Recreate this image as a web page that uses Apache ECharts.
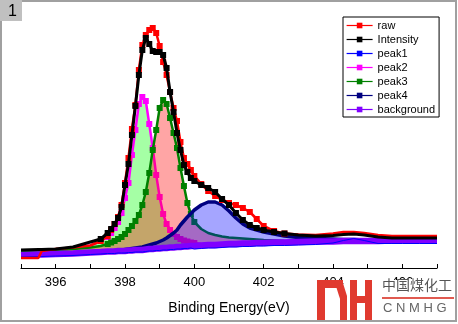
<!DOCTYPE html>
<html>
<head>
<meta charset="utf-8">
<script src="https://cdn.jsdelivr.net/npm/echarts@6/dist/echarts.min.js"></script>
<style>html,body{margin:0;padding:0;background:#fff;}#c{width:458px;height:324px;}</style>
</head>
<body>
<div id="c"></div>
<script>
// Binding energy (eV)
var energy = [395.0, 395.5, 395.6, 396.0, 396.5, 397.0, 397.3,
  397.5, 397.6, 397.7, 397.8, 397.9, 398.0, 398.1, 398.2, 398.3, 398.4, 398.5, 398.6, 398.7, 398.8, 398.9,
  399.0, 399.1, 399.2, 399.3, 399.4, 399.5, 399.6, 399.7, 399.8, 399.9, 400.0,
  400.2, 400.4, 400.6, 400.8, 401.0, 401.2, 401.4, 401.6, 401.8, 402.0,
  402.3, 402.6, 403.0, 403.5, 404.0, 404.3, 404.6, 404.9, 405.3, 405.7, 406.0, 406.5, 407.0];
// Intensities (arbitrary units)
var raw = [10, 10, 17, 19, 20.5, 22.5, 27,
  32, 38, 44, 51, 63, 85, 110, 139, 163, 198, 223, 233, 238, 240, 235,
  222, 206, 193, 176, 160, 147, 126, 110, 104, 98, 92,
  84, 77, 72, 68, 65, 63, 60, 56, 49, 42,
  37, 34.5, 33.5, 33, 34.5, 36, 36, 35, 33, 32, 32, 32, 32];
var intensity = [18, 18.5, 18.5, 19, 21, 26, 29,
  35, 39, 44, 50, 61, 83, 104, 133, 162, 193, 218, 230, 224, 217, 216,
  216, 213, 200, 176, 156, 135, 118, 103, 96, 90, 87,
  83, 80, 76, 69, 63, 55, 48, 43, 40, 38,
  36, 34.5, 33, 32, 32.5, 33.5, 34, 33, 31, 30, 30, 30, 30];
var peak1 = [11, 11.5, 11.5, 12, 12.5, 13.5, 14,
  14.5, 14.5, 14.5, 15, 15, 15, 15.5, 15.5, 16, 16, 16, 16.5, 17, 17, 17.5,
  17.5, 18, 18, 18.5, 18.5, 19, 19, 19.5, 19.5, 20, 19,
  19.5, 20, 20, 20.5, 21, 21, 21.5, 21.5, 22, 22,
  22.5, 22.5, 23, 23.5, 25, 27.5, 29.5, 27.5, 24.5, 24.5, 24.5, 24.5, 24.5];
var peak2 = [16, 16.5, 16.5, 17.5, 19.5, 22.5, 27,
  31, 35, 40, 46, 55, 70, 85, 113, 138, 164, 171, 167, 144, 120, 93,
  71, 54, 44, 38, 34, 31, 29, 27.5, 26.5, 25.5, 25,
  24, 23.5, 23, 23, 23, 23.5, 24, 24, 24.5, 25,
  25.5, 25.5, 26, 26.5, 26.5, 27, 27, 27, 27, 27.5, 27.5, 27.5, 27.5];
var peak3 = [17, 17.5, 17.5, 18, 19, 20.5, 22,
  24, 25.5, 27, 29, 31, 34, 38, 42, 47, 53, 63, 76, 95, 118, 138,
  160, 168, 164, 150, 135, 120, 100, 82, 65, 54, 46,
  39, 35, 33, 31.5, 30.5, 30, 29.5, 29, 28.5, 28,
  27.5, 27, 26.5, 26.5, 26.5, 27, 27, 27, 27, 27.5, 27.5, 27.5, 27.5];
var peak4 = [12, 12.5, 12.5, 13, 14, 15, 16,
  16.5, 17, 17.5, 17.5, 18, 18.5, 19, 19.5, 20, 20.5, 21, 22, 23, 24, 25,
  26.5, 28, 30, 32.5, 35, 38, 43, 47, 51, 54.5, 58,
  63, 66, 66, 63, 57, 50, 44, 40, 38, 36,
  34, 32, 30.5, 29.5, 29, 28.5, 28.5, 28, 28, 28, 28, 28, 28];
var background = [13, 13.5, 13.5, 14, 14.5, 15.5, 16,
  16.5, 16.5, 16.5, 17, 17, 17, 17.5, 17.5, 18, 18, 18, 18.5, 19, 19, 19.5,
  19.5, 20, 20, 20.5, 20.5, 21, 21, 21.5, 21.5, 22, 22,
  22.5, 23, 23, 23.5, 24, 24, 24.5, 24.5, 25, 25,
  25.5, 25.5, 26, 26.5, 26.5, 27, 27, 27, 27, 27.5, 27.5, 27.5, 27.5];
var xTicks = [395, 396, 397, 398, 399, 400, 401, 402, 403, 404, 405, 406, 407];
var legendNames = ['raw', 'Intensity', 'peak1', 'peak2', 'peak3', 'peak4', 'background'];

function pairs(vals) { return energy.map(function (e, i) { return [e, vals[i]]; }); }
function sizeIn(lo, hi, s) { return function (v) { return (v[0] >= lo && v[0] <= hi) ? s : 0; }; }

var FONT = 'Liberation Sans, Arial, sans-serif';
var RED = '#e03a2f';
var chart = echarts.init(document.getElementById('c'), null, { renderer: 'canvas' });
chart.setOption({
  animation: false,
  backgroundColor: '#fff',
  grid: { left: 21, right: 21, top: 8, bottom: 56, containLabel: false },
  xAxis: {
    type: 'value', min: xTicks[0], max: xTicks[xTicks.length - 1], interval: 1, z: 20,
    name: 'Binding Energy(eV)', nameLocation: 'middle', nameGap: 33,
    nameTextStyle: { fontFamily: FONT, fontSize: 14, color: '#000' },
    axisLine: { lineStyle: { color: '#000', width: 1.2 } },
    axisTick: { inside: true, length: 4, lineStyle: { color: '#000', width: 1 } },
    axisLabel: { fontFamily: FONT, fontSize: 13, color: '#000', margin: 8,
      formatter: function (v) { return (v % 2 === 0) ? String(v) : ''; } },
    splitLine: { show: false }
  },
  yAxis: { type: 'value', min: 0, max: 260, show: false },
  legend: {
    data: legendNames, orient: 'vertical', left: 343, top: 17,
    backgroundColor: '#fff', borderColor: '#000', borderWidth: 1,
    padding: [3, 4, 2, 3], itemGap: 3, itemWidth: 26, itemHeight: 7,
    selectedMode: false, z: 30,
    lineStyle: { width: 1.2 },
    textStyle: { fontFamily: FONT, fontSize: 11, color: '#000' }
  },
  series: [
    { name: 'peak2', type: 'line', z: 2, data: pairs(peak2), color: '#ff00ff',
      lineStyle: { width: 2.5 }, symbol: 'rect', symbolSize: sizeIn(397.45, 400.05, 6),
      areaStyle: { color: 'rgba(0,255,0,0.5)' }, silent: true },
    { name: 'peak3', type: 'line', z: 3, data: pairs(peak3), color: '#008000',
      lineStyle: { width: 2.5 }, symbol: 'rect', symbolSize: sizeIn(397.45, 400.05, 6),
      areaStyle: { color: 'rgba(255,0,0,0.5)' }, silent: true },
    { name: 'peak4', type: 'line', z: 4, data: pairs(peak4), color: '#000080',
      lineStyle: { width: 3.5 }, symbol: 'rect', showSymbol: false,
      areaStyle: { color: 'rgba(0,0,255,0.5)' }, silent: true },
    { name: 'background', type: 'line', z: 5, data: pairs(background), color: '#8000ff',
      lineStyle: { width: 6.5 }, symbol: 'rect', showSymbol: false,
      areaStyle: { color: '#ffffff', opacity: 1 }, silent: true },
    { name: 'peak1', type: 'line', z: 6, data: pairs(peak1), color: '#0000ff',
      lineStyle: { width: 1 }, symbol: 'rect', showSymbol: false, silent: true },
    { name: 'raw', type: 'line', z: 7, data: pairs(raw), color: '#ff0000',
      lineStyle: { width: 2.5 }, symbol: 'rect', symbolSize: sizeIn(397.25, 402.65, 6), silent: true },
    { name: 'Intensity', type: 'line', z: 8, data: pairs(intensity), color: '#000000',
      lineStyle: { width: 3 }, symbol: 'rect', symbolSize: sizeIn(397.25, 402.65, 6), silent: true }
  ],
  graphic: [
    { type: 'rect', z: 100, silent: true, shape: { x: 1, y: 1, width: 455, height: 320 },
      style: { fill: 'none', stroke: '#a0a0a0', lineWidth: 2 } },
    { type: 'rect', z: 100, silent: true, shape: { x: 0, y: 0, width: 22, height: 21 }, style: { fill: '#c0c0c0' } },
    { type: 'text', z: 101, silent: true, left: 8, top: 4, style: { text: '1', fontFamily: FONT, fontSize: 16, fill: '#000' } },
    // watermark
    { type: 'rect', z: 99, silent: true, shape: { x: 376, y: 280, width: 79, height: 40 }, style: { fill: '#ffffff' } },
    { type: 'rect', z: 100, silent: true, shape: { x: 317, y: 280, width: 8, height: 40 }, style: { fill: RED } },
    { type: 'rect', z: 100, silent: true, shape: { x: 317, y: 280, width: 26, height: 8 }, style: { fill: RED } },
    { type: 'polygon', z: 100, silent: true, shape: { points: [[334, 280], [342, 280], [347, 296], [341, 302]] }, style: { fill: RED } },
    { type: 'rect', z: 100, silent: true, shape: { x: 340, y: 296, width: 7, height: 24 }, style: { fill: RED } },
    { type: 'rect', z: 100, silent: true, shape: { x: 350, y: 280, width: 7, height: 40 }, style: { fill: RED } },
    { type: 'rect', z: 100, silent: true, shape: { x: 365, y: 280, width: 7, height: 40 }, style: { fill: RED } },
    { type: 'rect', z: 100, silent: true, shape: { x: 350, y: 296, width: 20, height: 7 }, style: { fill: RED } },
    { type: 'text', z: 100, silent: true, left: 382, top: 278,
      style: { text: '中国煤化工', fontFamily: 'Noto Sans CJK SC', fontSize: 14, fill: '#555' } },
    { type: 'rect', z: 100, silent: true, shape: { x: 382, y: 297, width: 72, height: 2 }, style: { fill: '#e05a50' } },
    { type: 'text', z: 100, silent: true, left: 383, top: 302,
      style: { text: 'C N M H G', fontFamily: FONT, fontSize: 13, fill: '#666' } }
  ]
});
</script>
</body>
</html>
